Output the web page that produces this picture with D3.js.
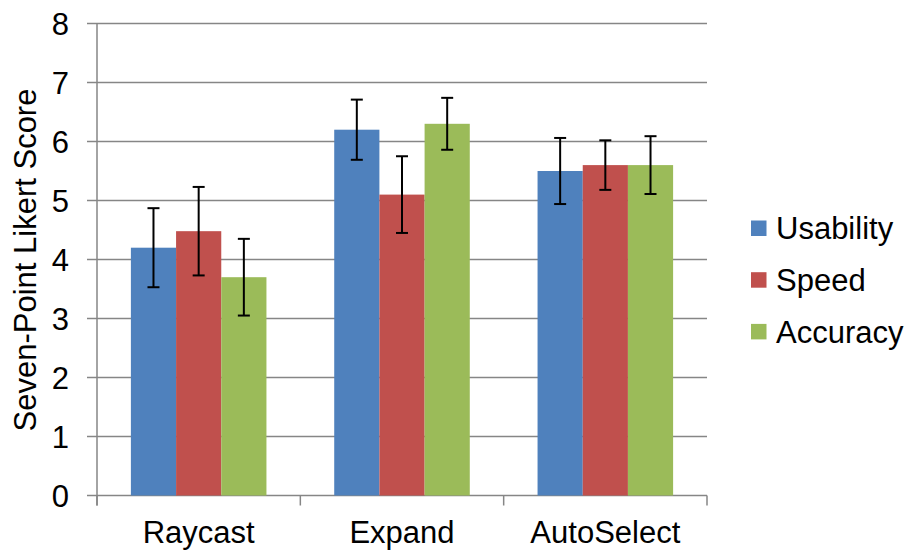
<!DOCTYPE html>
<html><head><meta charset="utf-8">
<script src="https://cdn.jsdelivr.net/npm/d3@7"></script>
<style>body{margin:0;background:#fff}svg{display:block;font-family:"Liberation Sans",Arial,sans-serif}</style>
</head><body><svg id="c" width="912" height="555"></svg>
<script>
const categories = ["Raycast", "Expand", "AutoSelect"];
const seriesNames = ["Usability", "Speed", "Accuracy"];
const usability = [4.2, 6.2, 5.5];
const speed = [4.48, 5.1, 5.6];
const accuracy = [3.7, 6.3, 5.6];
const usabilityErr = [0.67, 0.51, 0.56];
const speedErr = [0.75, 0.65, 0.42];
const accuracyErr = [0.65, 0.44, 0.49];
const yTicks = [0, 1, 2, 3, 4, 5, 6, 7, 8];
const colors = ["#4F81BD", "#C0504D", "#9BBB59"];

const values = [usability, speed, accuracy];
const errs = [usabilityErr, speedErr, accuracyErr];
const svg = d3.select("#c");
const L = 97, R = 707, T = 23.5, B = 495.5;
const FS = 31;

const x = d3.scaleBand().domain(categories).range([L, R]).paddingInner(0).paddingOuter(0);
const y = d3.scaleLinear().domain([0, 8]).range([B, T]);
const bw = x.bandwidth() / 4.5;
const xs = d3.scaleBand().domain(seriesNames).range([0, bw * 3]);

// gridlines
svg.append("g").selectAll("line").data(yTicks).join("line")
  .attr("x1", L - 10).attr("x2", R).attr("y1", d => y(d)).attr("y2", d => y(d))
  .attr("stroke", "#868686").attr("stroke-width", 1.5);

// y axis line
svg.append("line").attr("x1", L).attr("x2", L).attr("y1", T).attr("y2", B + 10)
  .attr("stroke", "#868686").attr("stroke-width", 1.5);
// category tick marks
svg.append("g").selectAll("line").data(categories.map(c => x(c)).concat([R])).join("line")
  .attr("x1", d => d).attr("x2", d => d).attr("y1", B).attr("y2", B + 10)
  .attr("stroke", "#868686").attr("stroke-width", 1.5);

// y tick labels
svg.append("g").selectAll("text").data(yTicks).join("text")
  .attr("x", 69).attr("y", d => y(d)).attr("dy", "0.36em")
  .attr("text-anchor", "end").attr("font-size", FS).attr("fill", "#000").text(d => d);

// bars
seriesNames.forEach((s, si) => {
  const g = svg.append("g");
  g.selectAll("rect").data(categories).join("rect")
    .attr("x", c => x(c) + bw * 0.75 + xs(s))
    .attr("y", (c, i) => y(values[si][i]))
    .attr("width", xs.bandwidth())
    .attr("height", (c, i) => y(0) - y(values[si][i]))
    .attr("fill", colors[si]);
});
// error bars
seriesNames.forEach((s, si) => {
  const g = svg.append("g").attr("stroke", "#000").attr("stroke-width", 2);
  categories.forEach((c, i) => {
    const cx = x(c) + bw * 0.75 + xs(s) + xs.bandwidth() / 2;
    const v = values[si][i], e = errs[si][i];
    g.append("line").attr("x1", cx).attr("x2", cx).attr("y1", y(v + e)).attr("y2", y(v - e));
    g.append("line").attr("x1", cx - 6).attr("x2", cx + 6).attr("y1", y(v + e)).attr("y2", y(v + e));
    g.append("line").attr("x1", cx - 6).attr("x2", cx + 6).attr("y1", y(v - e)).attr("y2", y(v - e));
  });
});

// x labels
svg.append("g").selectAll("text").data(categories).join("text")
  .attr("x", c => x(c) + x.bandwidth() / 2).attr("y", 543)
  .attr("text-anchor", "middle").attr("font-size", FS).text(c => c);

// y title
svg.append("text").attr("transform", "translate(36,260) rotate(-90)")
  .attr("text-anchor", "middle").attr("font-size", FS).text("Seven-Point Likert Score");

// legend
const lg = svg.append("g").selectAll("g").data(seriesNames).join("g")
  .attr("transform", (d, i) => `translate(751,${228 + i * 51.7})`);
lg.append("rect").attr("x", 0).attr("y", -7.5).attr("width", 15.5).attr("height", 15.5)
  .attr("fill", (d, i) => colors[i]);
lg.append("text").attr("x", 25).attr("y", 0).attr("dy", "0.36em").attr("font-size", FS).text(d => d);
</script></body></html>
